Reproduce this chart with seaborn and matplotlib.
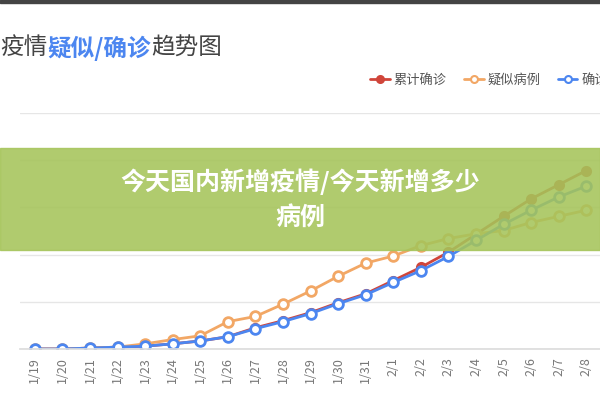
import matplotlib
matplotlib.use("Agg")
import matplotlib.pyplot as plt
import seaborn as sns
import pandas as pd
from matplotlib.patches import Rectangle

dates = ["1/19","1/20","1/21","1/22","1/23","1/24","1/25","1/26","1/27","1/28","1/29",
         "1/30","1/31","2/1","2/2","2/3","2/4","2/5","2/6","2/7","2/8"]
confirmed = [0,0,200,400,600,1100,1700,2600,4500,6000,7700,9800,11700,14500,17300,20500,24300,28100,31800,34800,37800]
suspected = [0,0,200,400,1100,2000,2800,5800,6900,9500,12300,15400,18200,19700,21900,23400,24400,25100,26800,28100,29400]
confirmed2 = [0,0,200,400,600,1100,1700,2600,4300,5800,7500,9600,11500,14100,16600,19600,23000,26400,29400,32200,34500]
names = ["累计确诊", "疑似病例", "确诊病例"]
colors = ["#d0453a", "#f2a765", "#4c86f0"]

sns.set_theme(style="white")
plt.rcParams['font.family'] = ['Noto Sans CJK SC', 'DejaVu Sans']

fig = plt.figure(figsize=(6, 4), dpi=100)
ax = fig.add_axes([20/600, 1-349/400, 580/600, (349-113)/400])

df = pd.DataFrame({"date": list(range(len(dates))) * 3,
                   "value": confirmed + suspected + confirmed2,
                   "series": [names[0]]*21 + [names[1]]*21 + [names[2]]*21})
for i, (n, c) in enumerate(zip(names, colors)):
    sub = df[df.series == n]
    filled = i == 0
    sns.lineplot(data=sub, x="date", y="value", ax=ax, color=c, lw=2,
                 marker="o", markersize=6 if filled else 7,
                 markerfacecolor=c if filled else "white",
                 markeredgecolor=c, markeredgewidth=2, legend=False)

ax.set_xlim(-0.54, 20.5)
ax.set_ylim(0, 50000)
ax.set_yticks([0, 10000, 20000, 30000, 40000, 50000])
ax.set_yticklabels([])
ax.yaxis.grid(True, color="#e6e6e6", lw=1)
ax.set_xticks(range(len(dates)))
ax.set_xticklabels(dates, rotation=90, fontsize=9, color="#777777")
ax.set_xlabel(""); ax.set_ylabel("")
for s in ["top", "right", "left"]:
    ax.spines[s].set_visible(False)
ax.spines["bottom"].set_color("#dddddd")
ax.tick_params(axis="x", length=0, pad=6)
ax.tick_params(axis="y", length=0)

fig.patches.append(Rectangle((0, 1-3/400), 1, 3/400, transform=fig.transFigure, color="#444444"))

t1 = fig.text(0.0, 1-48/400, "疫情", fontsize=17, color="#444444", va="center")
fig.canvas.draw()
x = t1.get_window_extent().x1/600
t2 = fig.text(x, 1-48/400, "疑似/确诊", fontsize=17, color="#4c86f0", weight="bold", va="center")
fig.canvas.draw()
x = t2.get_window_extent().x1/600
fig.text(x, 1-48/400, "趋势图", fontsize=17, color="#444444", va="center")

from matplotlib.lines import Line2D
handles = [Line2D([], [], color=c, lw=2, marker="o", markersize=5,
                  markerfacecolor=c if i == 0 else "white", markeredgewidth=1.5)
           for i, c in enumerate(colors)]
fig.legend(handles, names, loc="center left", bbox_to_anchor=(358/600, 1-80/400),
           ncol=3, frameon=False, fontsize=9.5, handlelength=1.5, handletextpad=0.3,
           columnspacing=1.3, labelcolor="#555555")

fig.patches.append(Rectangle((0, 1-250/400), 1, 102/400, transform=fig.transFigure,
                             color="#a5c45a", alpha=0.88, zorder=10))
fig.text(0.5, 1-182/400, "今天国内新增疫情/今天新增多少", fontsize=18, weight="bold",
         color="white", ha="center", va="center", zorder=11)
fig.text(0.5, 1-218/400, "病例", fontsize=18, weight="bold",
         color="white", ha="center", va="center", zorder=11)

fig.savefig("out.png", dpi=100)
